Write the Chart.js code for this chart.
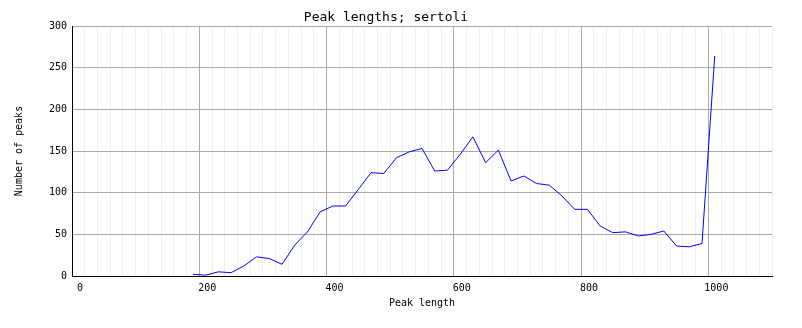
<!DOCTYPE html>
<html>
<head>
    <meta charset="utf-8"/>
    <title>Peak lengths; sertoli</title>
    <script src="https://cdn.jsdelivr.net/npm/chart.js"></script>
    <style>
        html, body {
            margin: 0;
            padding: 0;
            background: #ffffff;
        }
        #chart-container {
            width: 802px;
            height: 328px;
        }
    </style>
</head>
<body>
    <div id="chart-container">
        <canvas id="peakChart"></canvas>
    </div>

    <script>
        // Datos
        const peakLengths = [190, 210, 230, 250, 270, 290, 310, 330, 350, 370,
                             390, 410, 430, 450, 470, 490, 510, 530, 550, 570,
                             590, 610, 630, 650, 670, 690, 710, 730, 750, 770,
                             790, 810, 830, 850, 870, 890, 910, 930, 950, 970,
                             990, 1010];
        const peakCounts = [2, 1, 5, 4, 12, 23, 21, 14, 37, 53,
                            77, 84, 84, 104, 124, 123, 142, 149, 153, 126,
                            127, 146, 167, 136, 151, 114, 120, 111, 109, 96,
                            80, 80, 60, 52, 53, 48, 50, 54, 36, 35,
                            39, 264];
        const xTickLabels = ['0', '200', '400', '600', '800', '1000'];
        const yTickLabels = ['0', '50', '100', '150', '200', '250', '300'];

        const monoFont = "'DejaVu Sans Mono', 'Liberation Mono', monospace";
        const majorGrid = '#aaaaaa';
        const minorGrid = '#eeeeee';

        function setupChart() {
            const ctx = document.getElementById('peakChart').getContext('2d');
            const points = peakLengths.map((x, i) => ({ x: x, y: peakCounts[i] }));

            new Chart(ctx, {
                type: 'line',
                data: {
                    datasets: [{
                        label: 'sertoli',
                        data: points,
                        borderColor: '#0000ff',
                        borderWidth: 1,
                        pointRadius: 0,
                        tension: 0,
                        fill: false
                    }]
                },
                options: {
                    responsive: true,
                    maintainAspectRatio: false,
                    animation: false,
                    layout: {
                        padding: { left: 0, right: 30, top: 0, bottom: 0 }
                    },
                    plugins: {
                        legend: { display: false },
                        tooltip: { enabled: false },
                        title: {
                            display: true,
                            text: 'Peak lengths; sertoli',
                            color: '#000000',
                            font: { family: monoFont, size: 13, weight: 'normal' },
                            padding: { top: 10, bottom: 0.4 }
                        }
                    },
                    scales: {
                        x: {
                            type: 'linear',
                            min: 0,
                            max: 1100,
                            afterFit: scale => { scale.height = 52; },
                            border: { display: true, color: '#000000', width: 1 },
                            grid: {
                                drawTicks: false,
                                color: c => c.tick.value === 0 ? '#000000'
                                    : (xTickLabels.includes(String(c.tick.value)) ? majorGrid : minorGrid)
                            },
                            ticks: {
                                stepSize: 20,
                                maxTicksLimit: 100,
                                autoSkip: false,
                                maxRotation: 0,
                                padding: 6,
                                labelOffset: 8,
                                color: '#000000',
                                font: { family: monoFont, size: 10 },
                                callback: v => xTickLabels.includes(String(v)) ? String(v) : ''
                            },
                            title: {
                                display: true,
                                text: 'Peak length',
                                color: '#000000',
                                font: { family: monoFont, size: 10 },
                                padding: { top: 0, bottom: 19 }
                            }
                        },
                        y: {
                            min: 0,
                            max: 300,
                            afterFit: scale => { scale.width = 72; },
                            border: { display: true, color: '#000000', width: 1 },
                            grid: {
                                drawTicks: false,
                                color: c => c.tick.value === 0 ? '#000000' : majorGrid
                            },
                            ticks: {
                                stepSize: 50,
                                padding: 5,
                                color: '#000000',
                                font: { family: monoFont, size: 10 },
                                callback: v => yTickLabels.includes(String(v)) ? String(v) : ''
                            },
                            title: {
                                display: true,
                                text: 'Number of peaks',
                                color: '#000000',
                                font: { family: monoFont, size: 10 },
                                padding: { top: 13, bottom: 4 }
                            }
                        }
                    }
                }
            });
        }

        document.addEventListener('DOMContentLoaded', setupChart);
    </script>
</body>
</html>
